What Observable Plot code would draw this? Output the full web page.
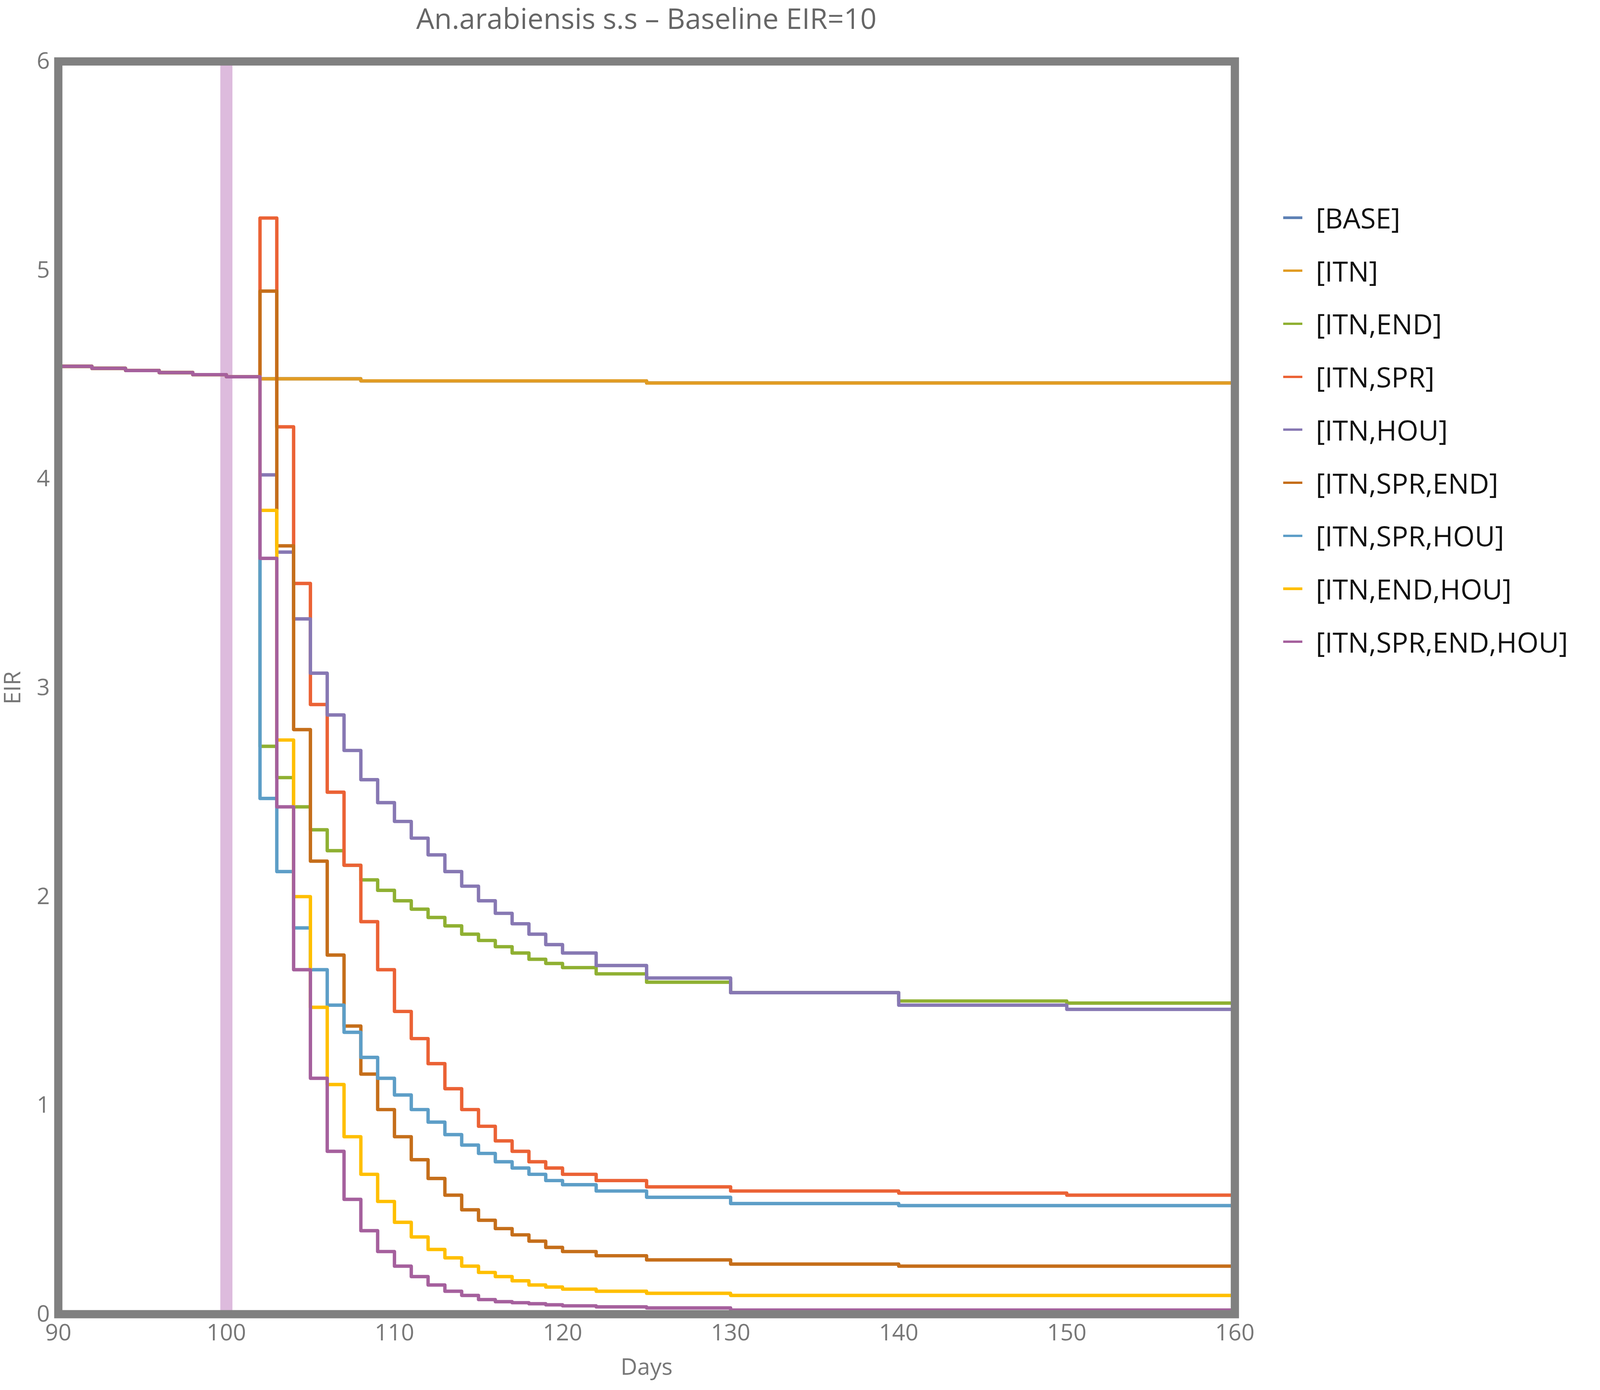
<!DOCTYPE html>
<html>
<head>
<meta charset="utf-8">
<script src="https://cdn.jsdelivr.net/npm/d3@7"></script>
<script src="https://cdn.jsdelivr.net/npm/@observablehq/plot@0.6"></script>
<style>
  html, body { margin: 0; background: white; font-family: "Open Sans", sans-serif; overflow: hidden; }
  #wrap { display: flex; }
  #title { color: #666; text-align: center; }
  .item { display: flex; align-items: center; color: #111; }
</style>
</head>
<body>
<div id="wrap">
  <div id="left">
    <div id="title">An.arabiensis s.s – Baseline EIR=10</div>
    <div id="chart"></div>
  </div>
  <div id="legend"></div>
</div>
<script>
// series names and colours (Mathematica default palette)
const names = ["[BASE]", "[ITN]", "[ITN,END]", "[ITN,SPR]", "[ITN,HOU]", "[ITN,SPR,END]", "[ITN,SPR,HOU]", "[ITN,END,HOU]", "[ITN,SPR,END,HOU]"];
const colors = ["#5E81B5", "#E19C24", "#8FB032", "#EB6235", "#8778B3", "#C56E1A", "#5D9EC7", "#FFBF00", "#A5609D"];

// common part before interventions kick in
const preDays = [90, 92, 94, 96, 98, 100, 102];
const preVals = [4.54, 4.53, 4.52, 4.51, 4.50, 4.49, 4.48];

// days after 102 (step values)
const days = [102, 103, 104, 105, 106, 107, 108, 109, 110, 111, 112, 113, 114, 115, 116, 117, 118, 119, 120, 122, 125, 130, 140, 150, 160];

const vBase    = [4.48, 4.48, 4.48, 4.48, 4.48, 4.48, 4.47, 4.47, 4.47, 4.47, 4.47, 4.47, 4.47, 4.47, 4.47, 4.47, 4.47, 4.47, 4.47, 4.47, 4.46, 4.46, 4.46, 4.46, 4.46];
const vItn     = vBase;
const vEnd     = [2.72, 2.57, 2.43, 2.32, 2.22, 2.15, 2.08, 2.03, 1.98, 1.94, 1.90, 1.86, 1.82, 1.79, 1.76, 1.73, 1.70, 1.68, 1.66, 1.63, 1.59, 1.54, 1.50, 1.49, 1.48];
const vSpr     = [5.25, 4.25, 3.50, 2.92, 2.50, 2.15, 1.88, 1.65, 1.45, 1.32, 1.20, 1.08, 0.98, 0.90, 0.83, 0.78, 0.73, 0.70, 0.67, 0.64, 0.61, 0.59, 0.58, 0.57, 0.57];
const vHou     = [4.02, 3.65, 3.33, 3.07, 2.87, 2.70, 2.56, 2.45, 2.36, 2.28, 2.20, 2.12, 2.05, 1.98, 1.92, 1.87, 1.82, 1.77, 1.73, 1.67, 1.61, 1.54, 1.48, 1.46, 1.45];
const vSprEnd  = [4.90, 3.68, 2.80, 2.17, 1.72, 1.38, 1.15, 0.98, 0.85, 0.74, 0.65, 0.57, 0.50, 0.45, 0.41, 0.38, 0.35, 0.32, 0.30, 0.28, 0.26, 0.24, 0.23, 0.23, 0.23];
const vSprHou  = [2.47, 2.12, 1.85, 1.65, 1.48, 1.35, 1.23, 1.13, 1.05, 0.98, 0.92, 0.86, 0.81, 0.77, 0.73, 0.70, 0.67, 0.64, 0.62, 0.59, 0.56, 0.53, 0.52, 0.52, 0.52];
const vEndHou  = [3.85, 2.75, 2.00, 1.47, 1.10, 0.85, 0.67, 0.54, 0.44, 0.37, 0.31, 0.27, 0.23, 0.20, 0.18, 0.16, 0.14, 0.13, 0.12, 0.11, 0.10, 0.09, 0.09, 0.09, 0.09];
const vAll     = [3.62, 2.43, 1.65, 1.13, 0.78, 0.55, 0.40, 0.30, 0.23, 0.18, 0.14, 0.11, 0.09, 0.07, 0.06, 0.055, 0.05, 0.045, 0.04, 0.035, 0.03, 0.02, 0.02, 0.02, 0.02];

const seriesVals = [vBase, vItn, vEnd, vSpr, vHou, vSprEnd, vSprHou, vEndHou, vAll];

const rows = [];
seriesVals.forEach((vals, i) => {
  preDays.slice(0, -1).forEach((d, j) => rows.push({ s: names[i], day: d, eir: preVals[j] }));
  days.forEach((d, j) => rows.push({ s: names[i], day: d, eir: vals[j] }));
});

// everything sized relative to the real viewport (reference is 6609 wide)
const W = window.innerWidth, H = window.innerHeight;
const k = W / 6609;

const title = document.getElementById("title");
title.style.height = title.style.lineHeight = (150 * k) + "px";
title.style.fontSize = (118 * k) + "px";
title.style.paddingLeft = (240 * k) + "px";
title.style.width = (4860 * k) + "px";
document.getElementById("left").style.width = (5300 * k) + "px";

const chart = Plot.plot({
  width: 5300 * k,
  height: H - 150 * k,
  marginTop: 103 * k,
  marginLeft: 240 * k,
  marginRight: 200 * k,
  marginBottom: 314 * k,
  style: { fontFamily: '"Open Sans", sans-serif', fontSize: (95 * k) + "px", color: "#777" },
  x: { domain: [90, 160], ticks: [90, 100, 110, 120, 130, 140, 150, 160], tickFormat: "d", tickSize: 0, tickPadding: 40 * k, label: "Days", labelAnchor: "center", labelArrow: "none", labelOffset: 250 * k },
  y: { domain: [0, 6], ticks: [0, 1, 2, 3, 4, 5, 6], tickFormat: "d", tickSize: 0, tickPadding: 35 * k, label: "EIR", labelAnchor: "center", labelArrow: "none", labelOffset: 225 * k },
  color: { domain: names, range: colors },
  marks: [
    Plot.ruleX([100], { stroke: "#DDBBDD", strokeWidth: 50 * k }),
    Plot.line(rows, { x: "day", y: "eir", z: "s", stroke: "s", curve: "step-after", strokeWidth: 14 * k }),
    Plot.frame({ stroke: "#808080", strokeWidth: 34 * k })
  ]
});
document.getElementById("chart").append(chart);

const leg = document.getElementById("legend");
leg.style.paddingTop = (790 * k) + "px";
leg.style.paddingLeft = (-30 * k) + "px";
names.forEach((n, i) => {
  const it = document.createElement("div");
  it.className = "item";
  it.style.height = (219 * k) + "px";
  it.style.fontSize = (115 * k) + "px";
  it.innerHTML = `<div style="background:${colors[i]};width:${80 * k}px;height:${10 * k}px;margin-right:${55 * k}px"></div><span>${n}</span>`;
  leg.append(it);
});
</script>
</body>
</html>
